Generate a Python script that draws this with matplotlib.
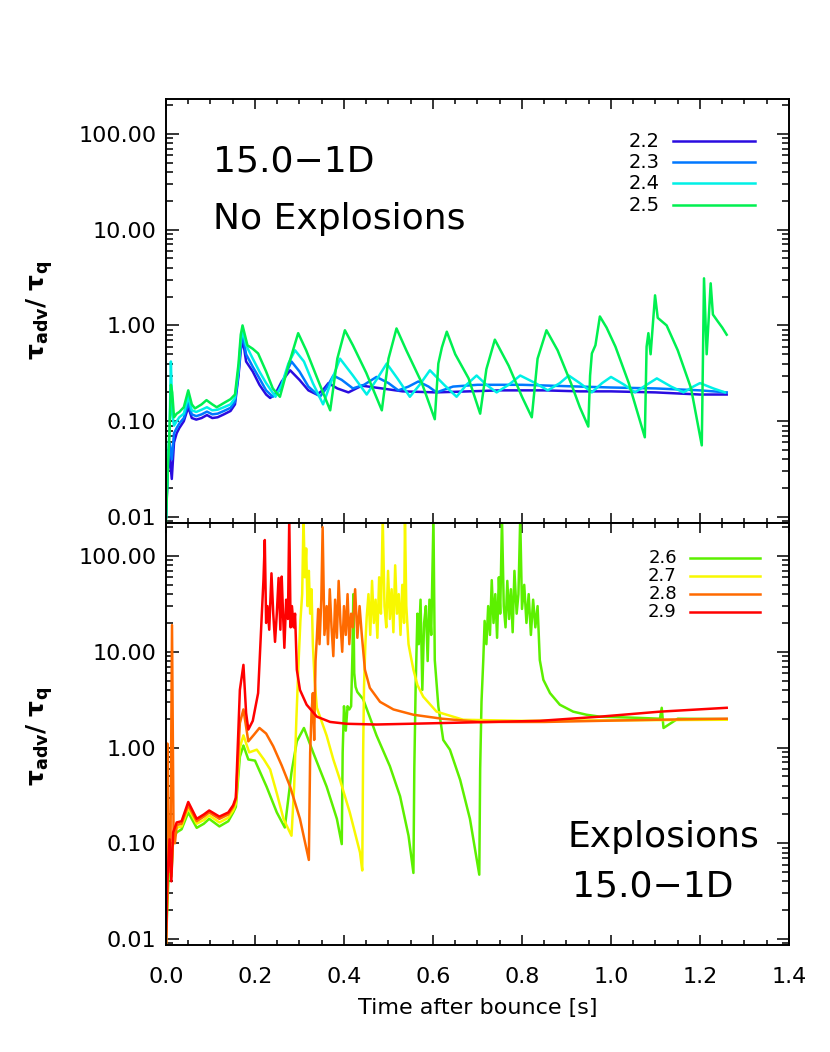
import numpy as np
import matplotlib.pyplot as plt
from matplotlib.ticker import MultipleLocator, LogLocator, FuncFormatter, NullFormatter

# --- top panel: no explosions (time [s], tau_adv / tau_q) ---
run_22 = [(0.000, 0.010), (0.004, 0.030), (0.008, 0.045), (0.013, 0.025), (0.018, 0.060),
          (0.024, 0.075), (0.030, 0.085), (0.040, 0.100), (0.050, 0.140), (0.058, 0.108),
          (0.068, 0.104), (0.080, 0.108), (0.092, 0.116), (0.104, 0.108), (0.116, 0.110),
          (0.130, 0.118), (0.145, 0.128), (0.155, 0.150), (0.163, 0.30), (0.168, 0.55),
          (0.173, 0.70), (0.180, 0.42), (0.195, 0.33), (0.210, 0.24), (0.225, 0.19),
          (0.234, 0.175), (0.245, 0.19), (0.260, 0.26), (0.279, 0.34), (0.300, 0.27),
          (0.320, 0.21), (0.339, 0.19), (0.352, 0.21), (0.365, 0.25), (0.385, 0.22),
          (0.410, 0.20), (0.440, 0.235), (0.485, 0.22), (0.532, 0.205), (0.607, 0.20),
          (0.680, 0.205), (0.750, 0.21), (0.850, 0.21), (0.930, 0.205), (1.000, 0.205),
          (1.100, 0.20), (1.200, 0.19), (1.260, 0.19)]

run_23 = [(0.000, 0.010), (0.004, 0.035), (0.008, 0.060), (0.013, 0.040), (0.018, 0.075),
          (0.024, 0.085), (0.030, 0.095), (0.040, 0.108), (0.050, 0.155), (0.058, 0.118),
          (0.068, 0.113), (0.080, 0.118), (0.092, 0.126), (0.104, 0.118), (0.116, 0.120),
          (0.130, 0.128), (0.145, 0.138), (0.155, 0.160), (0.163, 0.32), (0.168, 0.62),
          (0.173, 0.77), (0.180, 0.50), (0.195, 0.37), (0.210, 0.28), (0.225, 0.21),
          (0.240, 0.18), (0.255, 0.21), (0.270, 0.32), (0.282, 0.42), (0.300, 0.33),
          (0.320, 0.23), (0.346, 0.18), (0.360, 0.22), (0.376, 0.30), (0.395, 0.27),
          (0.420, 0.22), (0.445, 0.24), (0.473, 0.29), (0.500, 0.25), (0.522, 0.21),
          (0.545, 0.23), (0.567, 0.26), (0.590, 0.23), (0.608, 0.20), (0.645, 0.23),
          (0.700, 0.24), (0.800, 0.24), (0.930, 0.23), (1.000, 0.225), (1.100, 0.22),
          (1.200, 0.21), (1.260, 0.20)]

run_24 = [(0.000, 0.010), (0.004, 0.04), (0.008, 0.08), (0.011, 0.42), (0.014, 0.12),
          (0.018, 0.09), (0.024, 0.10), (0.030, 0.11), (0.040, 0.12), (0.050, 0.18),
          (0.058, 0.13), (0.068, 0.125), (0.080, 0.132), (0.092, 0.140), (0.104, 0.130),
          (0.116, 0.132), (0.130, 0.140), (0.145, 0.150), (0.155, 0.175), (0.163, 0.35),
          (0.168, 0.70), (0.173, 0.86), (0.180, 0.62), (0.195, 0.45), (0.210, 0.33),
          (0.225, 0.25), (0.246, 0.18), (0.260, 0.24), (0.275, 0.40), (0.290, 0.55),
          (0.310, 0.42), (0.330, 0.25), (0.353, 0.15), (0.370, 0.25), (0.391, 0.45),
          (0.420, 0.30), (0.451, 0.19), (0.475, 0.28), (0.496, 0.40), (0.520, 0.28),
          (0.548, 0.18), (0.570, 0.24), (0.593, 0.34), (0.625, 0.24), (0.653, 0.18),
          (0.675, 0.24), (0.698, 0.30), (0.720, 0.24), (0.743, 0.20), (0.770, 0.24),
          (0.796, 0.30), (0.830, 0.25), (0.858, 0.21), (0.885, 0.25), (0.905, 0.30),
          (0.930, 0.25), (0.957, 0.20), (0.980, 0.25), (1.000, 0.29), (1.030, 0.24),
          (1.054, 0.20), (1.080, 0.24), (1.103, 0.28), (1.135, 0.23), (1.163, 0.20),
          (1.185, 0.23), (1.200, 0.25), (1.230, 0.22), (1.256, 0.20)]

run_25 = [(0.000, 0.009), (0.004, 0.03), (0.008, 0.08), (0.011, 0.24), (0.014, 0.20),
          (0.018, 0.11), (0.024, 0.12), (0.030, 0.125), (0.040, 0.14), (0.050, 0.21),
          (0.058, 0.15), (0.065, 0.136), (0.080, 0.15), (0.091, 0.166), (0.104, 0.15),
          (0.114, 0.14), (0.130, 0.155), (0.145, 0.17), (0.155, 0.19), (0.163, 0.40),
          (0.168, 0.80), (0.172, 1.00), (0.183, 0.62), (0.195, 0.57), (0.207, 0.51),
          (0.225, 0.33), (0.240, 0.22), (0.256, 0.18), (0.275, 0.38), (0.297, 0.83),
          (0.315, 0.55), (0.340, 0.28), (0.369, 0.13), (0.385, 0.45), (0.402, 0.89),
          (0.420, 0.62), (0.450, 0.32), (0.485, 0.13), (0.500, 0.45), (0.518, 0.93),
          (0.540, 0.55), (0.575, 0.25), (0.604, 0.105), (0.612, 0.40), (0.620, 0.59),
          (0.631, 0.86), (0.650, 0.50), (0.680, 0.28), (0.706, 0.12), (0.720, 0.35),
          (0.739, 0.71), (0.770, 0.38), (0.800, 0.18), (0.822, 0.11), (0.835, 0.45),
          (0.855, 0.89), (0.880, 0.55), (0.910, 0.25), (0.930, 0.14), (0.949, 0.088),
          (0.953, 0.30), (0.957, 0.51), (0.965, 0.62), (0.975, 1.24), (0.990, 0.95),
          (1.010, 0.60), (1.040, 0.25), (1.076, 0.068), (1.080, 0.60), (1.084, 0.83),
          (1.089, 0.50), (1.099, 2.06), (1.105, 1.20), (1.125, 1.00), (1.150, 0.55),
          (1.180, 0.22), (1.204, 0.056), (1.209, 3.1), (1.215, 0.50), (1.224, 2.75),
          (1.229, 1.30), (1.240, 1.10), (1.250, 0.95), (1.260, 0.80)]

# --- bottom panel: explosions ---
run_26 = [(0.000, 0.009), (0.004, 0.03), (0.008, 0.07), (0.012, 0.045), (0.016, 0.11),
          (0.024, 0.13), (0.035, 0.14), (0.050, 0.21), (0.069, 0.145), (0.085, 0.16),
          (0.097, 0.18), (0.120, 0.15), (0.140, 0.17), (0.151, 0.21), (0.157, 0.24),
          (0.166, 0.80), (0.174, 1.05), (0.185, 0.75), (0.200, 0.73), (0.226, 0.39),
          (0.249, 0.21), (0.267, 0.146), (0.282, 0.55), (0.294, 1.16), (0.310, 1.6),
          (0.331, 0.88), (0.361, 0.39), (0.384, 0.18), (0.395, 0.098), (0.397, 0.89),
          (0.400, 2.7), (0.404, 1.5), (0.408, 2.7), (0.412, 2.5), (0.416, 2.7),
          (0.419, 9.7), (0.421, 40), (0.423, 6.0), (0.426, 4.3), (0.430, 3.8),
          (0.443, 3.2), (0.473, 1.34), (0.503, 0.64), (0.526, 0.31), (0.545, 0.12),
          (0.556, 0.049), (0.558, 0.6), (0.561, 4.3), (0.565, 25), (0.568, 12),
          (0.572, 35), (0.576, 4.0), (0.580, 20), (0.584, 30), (0.588, 8.0),
          (0.592, 35), (0.596, 15), (0.601, 250), (0.604, 8.2), (0.612, 2.7),
          (0.623, 1.2), (0.638, 0.95), (0.661, 0.46), (0.683, 0.18), (0.704, 0.047),
          (0.706, 0.6), (0.709, 3.0), (0.713, 8.2), (0.716, 21), (0.720, 12),
          (0.724, 30), (0.728, 15), (0.732, 56), (0.736, 20), (0.740, 40),
          (0.744, 14), (0.748, 60), (0.751, 25), (0.755, 250), (0.759, 30),
          (0.763, 18), (0.767, 55), (0.771, 22), (0.775, 45), (0.779, 16),
          (0.783, 70), (0.788, 25), (0.792, 40), (0.796, 250), (0.800, 28),
          (0.805, 50), (0.810, 20), (0.815, 40), (0.820, 15), (0.825, 35),
          (0.830, 18), (0.835, 30), (0.840, 8.2), (0.848, 5.1), (0.863, 3.7),
          (0.885, 2.8), (0.915, 2.37), (0.945, 2.2), (0.975, 2.1), (1.050, 2.05),
          (1.110, 2.0), (1.114, 2.6), (1.118, 1.6), (1.150, 2.0), (1.260, 1.98)]

run_27 = [(0.000, 0.009), (0.004, 0.04), (0.008, 0.09), (0.012, 0.05), (0.016, 0.11),
          (0.024, 0.145), (0.035, 0.15), (0.050, 0.235), (0.069, 0.16), (0.085, 0.175),
          (0.097, 0.195), (0.120, 0.165), (0.140, 0.185), (0.151, 0.22), (0.157, 0.26),
          (0.166, 1.0), (0.174, 1.34), (0.187, 0.89), (0.204, 0.95), (0.220, 0.75),
          (0.234, 0.59), (0.250, 0.32), (0.264, 0.18), (0.282, 0.12), (0.288, 0.39),
          (0.293, 2.0), (0.298, 8.0), (0.302, 21), (0.306, 40), (0.309, 250),
          (0.312, 60), (0.315, 120), (0.318, 30), (0.321, 70), (0.324, 25),
          (0.327, 45), (0.330, 12), (0.334, 5.0), (0.339, 2.6), (0.346, 2.1),
          (0.361, 1.33), (0.376, 0.75), (0.391, 0.46), (0.413, 0.21), (0.436, 0.08),
          (0.441, 0.052), (0.443, 0.89), (0.445, 4.3), (0.448, 12), (0.451, 23),
          (0.455, 40), (0.459, 15), (0.463, 55), (0.467, 20), (0.471, 35),
          (0.475, 14), (0.479, 60), (0.483, 25), (0.487, 250), (0.491, 30),
          (0.495, 18), (0.499, 70), (0.503, 22), (0.507, 45), (0.511, 16),
          (0.515, 80), (0.519, 25), (0.523, 40), (0.527, 15), (0.531, 50),
          (0.535, 20), (0.537, 250), (0.540, 30), (0.545, 12), (0.550, 9.0),
          (0.556, 6.5), (0.565, 4.5), (0.578, 3.4), (0.608, 2.37), (0.668, 1.95),
          (0.800, 1.9), (0.975, 1.92), (1.260, 1.95)]

run_28 = [(0.000, 0.009), (0.003, 1.1), (0.006, 0.05), (0.010, 0.08), (0.0135, 19),
          (0.017, 0.12), (0.020, 0.10), (0.024, 0.155), (0.035, 0.16), (0.050, 0.25),
          (0.069, 0.17), (0.085, 0.19), (0.097, 0.21), (0.120, 0.18), (0.140, 0.20),
          (0.151, 0.24), (0.157, 0.29), (0.166, 1.8), (0.174, 2.5), (0.185, 1.16),
          (0.197, 1.35), (0.210, 1.6), (0.225, 1.4), (0.241, 1.03), (0.260, 0.65),
          (0.279, 0.39), (0.301, 0.18), (0.321, 0.067), (0.324, 0.89), (0.327, 2.3),
          (0.330, 3.7), (0.333, 1.2), (0.336, 8.0), (0.339, 14), (0.342, 28),
          (0.345, 12), (0.349, 35), (0.352, 200), (0.356, 15), (0.361, 30),
          (0.364, 12), (0.368, 45), (0.372, 18), (0.376, 9.0), (0.380, 35),
          (0.384, 14), (0.388, 55), (0.392, 20), (0.396, 10), (0.400, 30),
          (0.404, 15), (0.408, 40), (0.412, 12), (0.416, 25), (0.420, 18),
          (0.425, 45), (0.430, 14), (0.435, 30), (0.440, 15), (0.447, 6.5),
          (0.458, 4.2), (0.481, 3.0), (0.511, 2.5), (0.556, 2.2), (0.620, 2.0),
          (0.706, 1.85), (0.850, 1.85), (0.975, 1.9), (1.100, 1.95), (1.260, 2.0)]

run_29 = [(0.000, 0.009), (0.004, 0.05), (0.008, 0.11), (0.012, 0.04), (0.016, 0.13),
          (0.024, 0.165), (0.035, 0.17), (0.050, 0.27), (0.069, 0.18), (0.085, 0.20),
          (0.097, 0.22), (0.120, 0.19), (0.140, 0.21), (0.151, 0.25), (0.157, 0.30),
          (0.166, 4.0), (0.174, 7.3), (0.180, 2.3), (0.185, 1.54), (0.195, 1.9),
          (0.207, 3.7), (0.215, 23), (0.219, 56), (0.222, 147), (0.225, 20),
          (0.228, 30), (0.232, 17), (0.237, 66), (0.241, 25), (0.245, 12.7),
          (0.249, 25), (0.253, 59), (0.257, 17), (0.260, 61), (0.263, 25),
          (0.266, 11), (0.270, 35), (0.274, 22), (0.277, 250), (0.280, 18),
          (0.283, 30), (0.287, 18), (0.290, 25), (0.294, 6.5), (0.301, 4.0),
          (0.316, 2.8), (0.339, 2.1), (0.369, 1.85), (0.406, 1.77), (0.473, 1.74),
          (0.571, 1.78), (0.706, 1.84), (0.840, 1.9), (0.975, 2.1), (1.110, 2.37),
          (1.260, 2.6)]

top_runs = [("2.2", run_22, "#2a0ce0"), ("2.3", run_23, "#0078ff"),
            ("2.4", run_24, "#00f0e6"), ("2.5", run_25, "#00f050")]
bottom_runs = [("2.6", run_26, "#5cf000"), ("2.7", run_27, "#f8f800"),
               ("2.8", run_28, "#ff6a00"), ("2.9", run_29, "#ff0000")]

plt.rcParams['font.family'] = ['DejaVu Sans']

fig = plt.figure(figsize=(8.3, 10.52), dpi=100)
ax1 = fig.add_axes([0.2, 0.5028, 0.7506, 0.4030])
ax2 = fig.add_axes([0.2, 0.1017, 0.7506, 0.4011])


def style(ax):
    ax.set_yscale('log')
    ax.set_xlim(0, 1.4)
    ax.set_ylim(0.00866, 221)
    ax.xaxis.set_major_locator(MultipleLocator(0.2))
    ax.xaxis.set_minor_locator(MultipleLocator(0.05))
    ax.yaxis.set_major_locator(LogLocator(base=10, numticks=10))
    ax.yaxis.set_minor_locator(LogLocator(base=10, subs=np.arange(2, 10), numticks=20))
    ax.yaxis.set_major_formatter(FuncFormatter(lambda v, p: f"{v:.2f}"))
    ax.yaxis.set_minor_formatter(NullFormatter())
    ax.tick_params(which='both', direction='in', top=True, right=True, width=1.1)
    ax.tick_params(axis='y', which='major', length=9, labelsize=16, pad=7)
    ax.tick_params(axis='y', which='minor', length=5)
    ax.tick_params(axis='x', which='major', length=7, labelsize=16, pad=16)
    ax.tick_params(axis='x', which='minor', length=3.5)
    for s in ax.spines.values():
        s.set_linewidth(1.4)


for ax, runs in [(ax1, top_runs), (ax2, bottom_runs)]:
    style(ax)
    for lab, run, col in runs:
        t, y = np.array(run).T
        ax.plot(t, y, color=col, lw=1.8)

ax1.set_ylim(0.00866, 230)
ax1.tick_params(axis='x', labelbottom=False)
ax2.set_xlabel("Time after bounce [s]", fontsize=16, labelpad=8)

# legends drawn IDL-style: label, then a short line
for ax, runs, xl, x0, x1, ys, fs in [
        (ax1, top_runs, 0.793, 0.814, 0.945, [0.901, 0.851, 0.801, 0.750], 14),
        (ax2, bottom_runs, 0.820, 0.841, 0.953, [0.917, 0.874, 0.832, 0.789], 13)]:
    for (lab, run, col), yy in zip(runs, ys):
        ax.text(xl, yy, lab, transform=ax.transAxes, ha='right', va='center', fontsize=fs)
        ax.plot([x0, x1], [yy, yy], color=col, lw=1.8, transform=ax.transAxes)

ax1.text(0.0754, 0.829, "15.0\u22121D", transform=ax1.transAxes, fontsize=26, va='baseline')
ax1.text(0.0754, 0.694, "No Explosions", transform=ax1.transAxes, fontsize=26, va='baseline')
ax2.text(0.645, 0.232, "Explosions", transform=ax2.transAxes, fontsize=26, va='baseline')
ax2.text(0.652, 0.114, "15.0\u22121D", transform=ax2.transAxes, fontsize=26, va='baseline')

ylab = r"$\mathbf{\tau_{adv}/\ \tau_q}$"
fig.text(0.048, 0.705, ylab, rotation=90, ha='center', va='center', fontsize=18)
fig.text(0.048, 0.30, ylab, rotation=90, ha='center', va='center', fontsize=18)

fig.savefig("out.png", dpi=100)
